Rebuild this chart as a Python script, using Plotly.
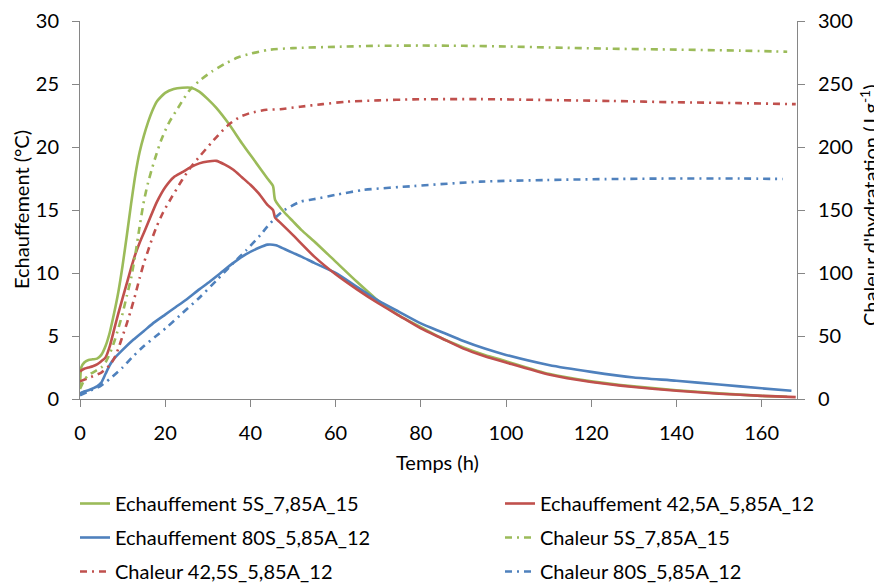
import plotly.graph_objects as go

# ---------------- data ----------------
ech5_x = [0, 0.3, 1, 2, 3, 4, 5, 6, 7, 8, 9, 10, 11, 12, 13, 14, 15, 16, 17, 18, 20, 22, 24, 26, 28, 30, 32, 35, 38, 41, 44, 45.3,
          45.8, 48, 50, 52, 55, 60, 65, 70, 75, 80, 85, 90, 95, 100, 110, 120, 130, 140, 150, 160, 166]
ech5_y = [1.0, 2.5, 2.9, 3.1, 3.15, 3.2, 3.5, 4.2, 5.3, 6.8, 8.5, 10.6, 13.0, 15.5, 17.8, 19.6, 20.9, 22.0, 22.9, 23.6, 24.3, 24.6,
          24.7, 24.7, 24.4, 23.8, 23.1, 21.8, 20.3, 18.9, 17.5, 16.9,
          15.8, 14.8, 14.1, 13.4, 12.5, 10.9, 9.3, 7.8, 6.6, 5.7, 4.8, 4.1, 3.5, 3.0, 2.0, 1.4, 1.0, 0.7, 0.45, 0.25, 0.18]

ech42_x = [0, 1, 2, 3, 4, 5, 6, 7, 8, 9, 10, 11, 12, 13, 14, 15, 16, 18, 20, 22, 24, 26, 28, 30, 32, 34, 36, 38, 40, 42, 44, 45.3,
           45.8, 47, 50, 55, 60, 65, 70, 75, 80, 85, 90, 95, 100, 110, 120, 130, 140, 150, 160, 168]
ech42_y = [2.2, 2.4, 2.5, 2.6, 2.75, 3.0, 3.3, 4.2, 5.5, 6.8, 8.0, 9.2, 10.4, 11.5, 12.4, 13.2, 14.0, 15.6, 16.8, 17.6, 18.0, 18.4,
           18.7, 18.85, 18.9, 18.6, 18.2, 17.6, 17.0, 16.3, 15.4, 15.0,
           14.4, 14.0, 13.0, 11.3, 9.9, 8.7, 7.6, 6.6, 5.6, 4.8, 4.0, 3.4, 2.9, 1.95, 1.35, 0.95, 0.65, 0.42, 0.25, 0.15]

ech80_x = [0, 0.3, 2, 4, 5, 6, 7, 8, 10, 12.5, 15, 17.5, 20, 22.5, 25, 28, 30, 33, 36, 39, 42, 44, 46, 48, 50, 52, 55, 60, 65, 70,
           75, 80, 85, 90, 95, 100, 110, 120, 130, 140, 150, 160, 167]
ech80_y = [0.3, 0.5, 0.7, 1.0, 1.3, 2.0, 2.7, 3.2, 3.9, 4.7, 5.4, 6.1, 6.7, 7.3, 7.9, 8.7, 9.2, 10.0, 10.8, 11.5, 12.0, 12.25, 12.2,
           11.9, 11.6, 11.3, 10.8, 10.0, 8.9, 7.8, 6.9, 6.0, 5.3, 4.6, 4.0, 3.5, 2.7, 2.15, 1.7, 1.45, 1.15, 0.85, 0.65]

chal5_x = [0, 1, 2, 3, 4, 5, 6, 7, 8, 9, 10, 11, 12, 13, 14, 15, 16, 17, 18, 19, 20, 21, 23, 25.7, 28.2, 31, 34, 37, 40, 44, 50, 60,
           70, 80, 90, 100, 110, 125, 140, 155, 166]
chal5_y = [8, 15, 19, 21, 23, 25, 29, 36, 45, 56, 68, 82, 96, 115, 137, 157, 172, 184, 195, 205, 213, 220, 231, 245, 253, 260, 266,
           271, 274, 277, 278.5, 279.5, 280.3, 280.5, 280.3, 279.8, 279, 278, 277.3, 276.5, 275.6]

chal42_x = [0, 3, 5, 7, 8, 9, 10, 11, 12, 13, 14, 15, 16, 17, 18, 19.5, 21.5, 24, 26, 28.2, 31, 32.9, 35, 37.6, 40, 43.8, 47, 51.7,
            57, 62.6, 70, 78.3, 94, 109.6, 125, 140, 155, 168]
chal42_y = [14, 18, 21, 27, 32, 40, 50, 60, 71, 83, 96, 108, 118, 128, 137, 148, 160, 174, 184, 193, 204, 211, 218, 224, 227,
            229.5, 230, 232, 234, 236, 237, 237.8, 238, 237.3, 236.5, 235.5, 234.8, 234]

chal80_x = [0, 2, 4.7, 7, 10, 12.5, 15, 17.5, 20.4, 24, 28.2, 32, 36, 39, 42.3, 44, 46.2, 48, 51.7, 54.8, 60, 66.5, 78.3, 94, 109.6,
            125, 140, 155, 165]
chal80_y = [3, 6, 10, 16, 25, 34, 42, 49, 57, 68, 81, 94, 108, 118, 130, 137, 145, 150, 156.6, 158.5, 162, 165.9, 169, 172.5, 173.8,
            174.6, 175, 175, 174.6]

names = ["Echauffement 5S_7,85A_15", "Echauffement 42,5A_5,85A_12", "Echauffement 80S_5,85A_12",
         "Chaleur 5S_7,85A_15", "Chaleur 42,5S_5,85A_12", "Chaleur 80S_5,85A_12"]

x_ticks = [0, 20, 40, 60, 80, 100, 120, 140, 160]
y_left_ticks = [0, 5, 10, 15, 20, 25, 30]
y_right_ticks = [0, 50, 100, 150, 200, 250, 300]

x_title = "Temps (h)"
y_left_title = "Echauffement (°C)"
y_right_title = "Chaleur d'hydratation (J.g<sup>-1</sup>)"

# ---------------- style ----------------
GREEN = "#9BBB59"
RED = "#C0504D"
BLUE = "#4F81BD"
AXC = "#868686"
FONT = "Lato"
FS = 20
DD = "7px,5px,2px,5px"

# the page body has an 8px margin: figure is sized so it ends at the window edge
W, H = 874, 577
OFF = 8

fig = go.Figure()

def add(x, y, name, color, dash, yaxis, legend):
    fig.add_trace(go.Scatter(
        x=x, y=y, name=name, mode="lines", yaxis=yaxis, legend=legend, legendgroup=name,
        line=dict(color=color, width=2.6, dash=dash, shape="spline", smoothing=0.6),
    ))

# left legend column
add(ech5_x, ech5_y, names[0], GREEN, "solid", "y", "legend")
add(ech80_x, ech80_y, names[2], BLUE, "solid", "y", "legend")
add(chal42_x, chal42_y, names[4], RED, DD, "y2", "legend")
# right legend column
add(ech42_x, ech42_y, names[1], RED, "solid", "y", "legend2")
add(chal5_x, chal5_y, names[3], GREEN, DD, "y2", "legend2")
add(chal80_x, chal80_y, names[5], BLUE, DD, "y2", "legend2")

axis_common = dict(
    showgrid=False, zeroline=False, showline=True, linecolor=AXC, linewidth=1,
    ticks="outside", tickcolor=AXC, ticklen=7, tickwidth=1, ticklabelstandoff=9,
    tickfont=dict(family=FONT, size=FS, color="#000000"),
)

leg_common = dict(
    orientation="v", xref="container", yref="container", xanchor="left", yanchor="top",
    font=dict(family=FONT, size=FS, color="#000000"), bgcolor="rgba(0,0,0,0)",
    tracegroupgap=5, itemwidth=30,
)

# plot area in screen px: x 80..797, y 21..399
PL, PR, PT, PB = 80, 797, 21, 399
pw, ph = PR - PL, PB - PT

fig.update_layout(
    width=W, height=H,
    margin=dict(l=PL - OFF, r=W + OFF - PR, t=PT - OFF, b=H + OFF - PB, autoexpand=False),
    paper_bgcolor="white", plot_bgcolor="white",
    font=dict(family=FONT, size=FS, color="#000000"),
    xaxis=dict(range=[0, 168.3], tickvals=x_ticks, **axis_common),
    yaxis=dict(range=[0, 30], tickvals=y_left_ticks, **axis_common),
    yaxis2=dict(range=[0, 300], tickvals=y_right_ticks, overlaying="y", side="right", **axis_common),
    legend=dict(x=(75 - OFF) / W, y=1 - (484 - OFF) / H, **leg_common),
    legend2=dict(x=(500 - OFF) / W, y=1 - (484 - OFF) / H, **leg_common),
    annotations=[
        dict(text=x_title, xref="paper", yref="paper", x=(437 - PL) / pw, y=-(462 - PB) / ph,
             xanchor="center", yanchor="middle", showarrow=False, font=dict(family=FONT, size=FS)),
        dict(text=y_left_title, xref="paper", yref="paper", x=-(PL - 21) / pw, y=0.5,
             xanchor="center", yanchor="middle", textangle=-90, showarrow=False, font=dict(family=FONT, size=FS)),
        dict(text=y_right_title, xref="paper", yref="paper", x=1 + (869 - PR) / pw, y=(PB - 205) / ph,
             xanchor="center", yanchor="middle", textangle=-90, showarrow=False, font=dict(family=FONT, size=FS)),
    ],
)

fig.write_html("out.html")
